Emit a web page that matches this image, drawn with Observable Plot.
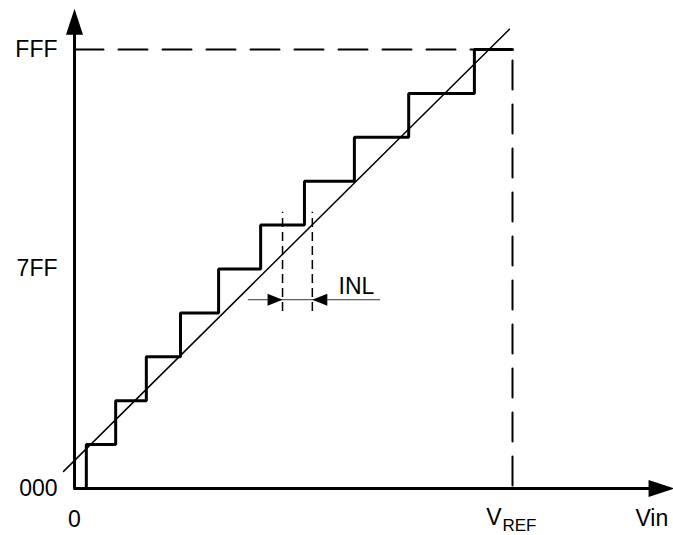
<!DOCTYPE html>
<html>
<head>
<meta charset="utf-8">
<script src="https://cdn.jsdelivr.net/npm/d3@7"></script>
<script src="https://cdn.jsdelivr.net/npm/@observablehq/plot@0.6"></script>
<style>
  html, body { margin: 0; padding: 0; background: #fff; }
  #chart svg { display: block; }
</style>
</head>
<body>
<div id="chart"></div>
<script>
// ---- data (Vin in tenths of VREF, output code in tenths of FFF) ----
const stepVin  = [0, 0.27, 0.94, 1.64, 2.42, 3.29, 4.25, 5.25, 6.39, 7.63, 9.13, 10];
const stepCode = [0, 1, 2, 3, 4, 5, 6, 7, 8, 9, 10, 10];
const idealVin  = [-0.25, 9.93];
const idealCode = [0.39, 10.46];
const yTickCodes  = [0, 5, 10];
const yTickLabels = ["000", "7FF", "FFF"];
const xTickVin    = [0, 10];
const xTickLabels = ["0", "V"];
const vrefSub     = "REF";
const fullScaleVin = 10, fullScaleCode = 10;
const axisTopCode = 10.93;     // y-axis arrow tip
const axisRightVin = 13.7;     // x-axis arrow tip
const axisTitleVin = 13.18;
const inlVin   = [4.75, 5.43];
const inlCodeRange = [4.03, 6.29];
const inlArrowCode = 4.3;
const inlArrowVin  = [3.97, 6.99];
const inlLabel = {vin: 6.03, code: 4.59, text: "INL"};

const steps = stepVin.map((v, i) => ({vin: v, code: stepCode[i]}));
const ideal = idealVin.map((v, i) => ({vin: v, code: idealCode[i]}));

const bigHead = {draw(ctx) { ctx.moveTo(0, 0); ctx.lineTo(-8.5, 26); ctx.lineTo(8.5, 26); ctx.closePath(); }};
const smallHead = {draw(ctx) { ctx.moveTo(0, 0); ctx.lineTo(-6, 15); ctx.lineTo(6, 15); ctx.closePath(); }};

const font = "Liberation Sans, Arial, sans-serif";

const chart = Plot.plot({
  width: 673,
  height: 535,
  margin: 0,
  x: {domain: [0, 10], range: [74, 512], axis: null},
  y: {domain: [0, 10], range: [488, 49], axis: null},
  style: {fontFamily: font, background: "#fff"},
  marks: [
    // dashed full-scale guides
    Plot.line([{vin: 0, code: fullScaleCode}, {vin: fullScaleVin, code: fullScaleCode}],
      {x: "vin", y: "code", stroke: "#000", strokeWidth: 2, strokeDasharray: "29,15"}),
    Plot.line([{vin: fullScaleVin, code: fullScaleCode}, {vin: fullScaleVin, code: 0}],
      {x: "vin", y: "code", stroke: "#000", strokeWidth: 2, strokeDasharray: "29,15", strokeDashoffset: 33}),
    // INL dashed verticals
    Plot.ruleX(inlVin, {y1: inlCodeRange[0], y2: inlCodeRange[1], stroke: "#000", strokeWidth: 1.5, strokeDasharray: "9,5"}),
    // INL arrow line
    Plot.ruleY([inlArrowCode], {x1: inlArrowVin[0], x2: inlArrowVin[1], stroke: "#333", strokeWidth: 1}),
    Plot.dot([{vin: inlVin[0], code: inlArrowCode, r: 90}, {vin: inlVin[1], code: inlArrowCode, r: -90}],
      {x: "vin", y: "code", rotate: "r", symbol: smallHead, fill: "#000", stroke: null}),
    Plot.text([inlLabel], {x: "vin", y: "code", text: "text", textAnchor: "start", fontSize: 23, fill: "#000"}),
    // ideal transfer line
    Plot.line(ideal, {x: "vin", y: "code", stroke: "#000", strokeWidth: 1.5}),
    // staircase
    Plot.line(steps, {x: "vin", y: "code", curve: "step-after", stroke: "#000", strokeWidth: 3, strokeLinejoin: "miter"}),
    // axes
    Plot.ruleX([0], {y1: 0, y2: axisTopCode - 0.4, stroke: "#000", strokeWidth: 3}),
    Plot.ruleY([0], {x1: 0, x2: axisRightVin - 0.3, stroke: "#000", strokeWidth: 3}),
    Plot.dot([{vin: 0, code: axisTopCode, r: 0}, {vin: axisRightVin, code: 0, r: 90}],
      {x: "vin", y: "code", rotate: "r", symbol: bigHead, fill: "#000", stroke: null}),
    // tick labels
    Plot.text(yTickCodes, {x: 0, y: d => d, text: (d, i) => yTickLabels[i], textAnchor: "end", dx: -17,
      fontSize: 23, fill: "#000", lineAnchor: "middle"}),
    Plot.text(xTickVin.slice(0, 1), {x: d => d, y: 0, text: (d, i) => xTickLabels[i], dy: 31, fontSize: 23, fill: "#000"}),
    Plot.text([xTickVin[1]], {x: d => d, y: 0, text: [xTickLabels[1]], textAnchor: "end", dx: -11, dy: 29, fontSize: 23, fill: "#000"}),
    Plot.text([xTickVin[1]], {x: d => d, y: 0, text: [vrefSub], textAnchor: "start", dx: -10, dy: 37, fontSize: 17, fill: "#000"}),
    Plot.text(["Vin"], {x: axisTitleVin, y: 0, text: d => d, dy: 30, fontSize: 23, fill: "#000"})
  ]
});
document.getElementById("chart").appendChild(chart);
</script>
</body>
</html>
